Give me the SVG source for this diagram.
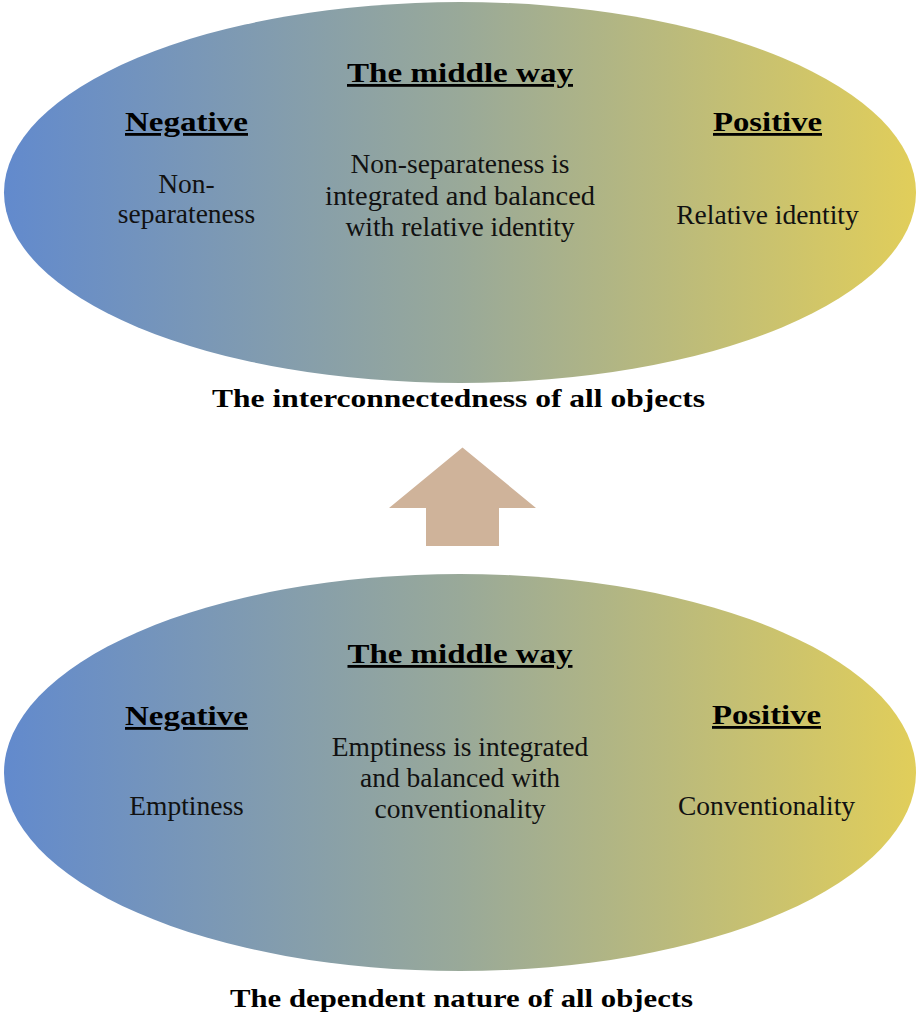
<svg xmlns="http://www.w3.org/2000/svg" width="917" height="1015" viewBox="0 0 917 1015">
  <style>
    text { font-family: 'Liberation Serif', 'Times New Roman', Times, serif; }
    .body { font-size: 27.5px; fill: #111; text-anchor: middle; }
    .head { font-size: 28px; font-weight: bold; fill: #000; text-anchor: middle; text-decoration: underline; }
    .cap { font-size: 25px; font-weight: bold; fill: #000; text-anchor: middle; }
    .arrow { fill: #cfb39a; }
  </style>
  <defs>
    <linearGradient id="grad" x1="0" y1="0" x2="1" y2="0">
      <stop offset="0" stop-color="#628acd"/>
      <stop offset="0.5" stop-color="#99a999"/>
      <stop offset="1" stop-color="#e1ce5a"/>
    </linearGradient>
  </defs>
  <rect width="917" height="1015" fill="#ffffff"/>

  <g id="top-ellipse">
    <ellipse cx="460" cy="192.5" rx="456" ry="190.5" fill="url(#grad)"/>
    <text class="head" x="460" y="82" textLength="226" lengthAdjust="spacingAndGlyphs">The middle way</text>
    <text class="head" x="186.5" y="131" textLength="123" lengthAdjust="spacingAndGlyphs">Negative</text>
    <text class="head" x="767.5" y="131" textLength="109" lengthAdjust="spacingAndGlyphs">Positive</text>
    <text class="body" x="186.5" y="193">Non-</text>
    <text class="body" x="186.5" y="223">separateness</text>
    <text class="body" x="460" y="173">Non-separateness is</text>
    <text class="body" x="460" y="205" textLength="270" lengthAdjust="spacingAndGlyphs">integrated and balanced</text>
    <text class="body" x="460" y="236">with relative identity</text>
    <text class="body" x="767.5" y="224">Relative identity</text>
  </g>

  <g id="top-caption">
    <text class="cap" x="458.5" y="407" textLength="493" lengthAdjust="spacingAndGlyphs">The interconnectedness of all objects</text>
  </g>

  <g id="connectors">
    <polygon class="arrow" points="462.5,447.5 536,508 499,508 499,546 426,546 426,508 389,508"/>
  </g>

  <g id="bottom-ellipse">
    <ellipse cx="460" cy="772.5" rx="456" ry="198.5" fill="url(#grad)"/>
    <text class="head" x="460" y="663" textLength="225" lengthAdjust="spacingAndGlyphs">The middle way</text>
    <text class="head" x="186.5" y="725" textLength="123" lengthAdjust="spacingAndGlyphs">Negative</text>
    <text class="head" x="766.5" y="724" textLength="109" lengthAdjust="spacingAndGlyphs">Positive</text>
    <text class="body" x="186.5" y="815">Emptiness</text>
    <text class="body" x="460" y="756">Emptiness is integrated</text>
    <text class="body" x="460" y="787">and balanced with</text>
    <text class="body" x="460" y="818">conventionality</text>
    <text class="body" x="766.5" y="815">Conventionality</text>
  </g>

  <g id="bottom-caption">
    <text class="cap" x="461.5" y="1007" textLength="463" lengthAdjust="spacingAndGlyphs">The dependent nature of all objects</text>
  </g>
</svg>
